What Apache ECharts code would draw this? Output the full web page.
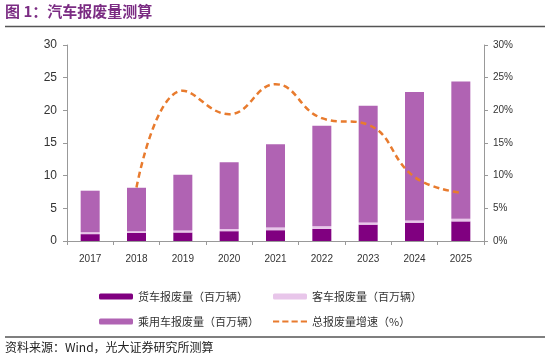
<!DOCTYPE html>
<html>
<head>
<meta charset="utf-8">
<script src="https://cdn.jsdelivr.net/npm/echarts@6/dist/echarts.min.js"></script>
<style>html,body{margin:0;padding:0;background:#fff}#c{width:550px;height:360px}</style>
</head>
<body>
<div id="c"></div>
<script>
var years = ['2017','2018','2019','2020','2021','2022','2023','2024','2025'];
var truck = [1.05, 1.25, 1.3, 1.5, 1.65, 1.85, 2.5, 2.8, 3.0];
var bus = [0.3, 0.25, 0.3, 0.35, 0.4, 0.4, 0.35, 0.35, 0.4];
var car = [6.35, 6.65, 8.55, 10.2, 12.75, 15.4, 17.85, 19.65, 21.0];
var growth = [null, 8.2, 23.0, 19.4, 24.0, 18.8, 17.8, 9.8, 7.4];
var leftTicks = [0, 30, 5];
var rightTicks = [0, 30, 5];

var font = 'Liberation Sans, Arial, sans-serif';
var cjk = '"Noto Sans CJK SC", sans-serif';
var chart = echarts.init(document.getElementById('c'));
chart.setOption({
  backgroundColor: '#fff',
  animation: false,
  grid: {left: 67, right: 66, top: 45, bottom: 119},
  legend: [
    {orient: 'vertical', left: 94, top: 286, itemWidth: 34, itemHeight: 6, itemGap: 14,
     textStyle: {fontFamily: cjk, fontSize: 11, color: '#333'},
     data: ['货车报废量（百万辆）', '乘用车报废量（百万辆）']},
    {orient: 'vertical', left: 268, top: 286, itemWidth: 34, itemHeight: 6, itemGap: 14,
     textStyle: {fontFamily: cjk, fontSize: 11, color: '#333'},
     data: ['客车报废量（百万辆）', {name: '总报废量增速（%）', icon: 'path://M0,0H6V2H0Z M9,0H15V2H9Z M18,0H24V2H18Z M27,0H33V2H27Z'}]}
  ],
  xAxis: {
    type: 'category', data: years,
    axisLine: {lineStyle: {color: '#999'}},
    axisTick: {show: true, length: 4, lineStyle: {color: '#999'}},
    axisLabel: {fontFamily: font, fontSize: 10, color: '#333', margin: 13}
  },
  yAxis: [
    {type: 'value', min: leftTicks[0], max: leftTicks[1], interval: leftTicks[2],
     splitLine: {show: false},
     axisLine: {show: true, lineStyle: {color: '#999'}},
     axisTick: {show: true, length: 4, lineStyle: {color: '#999'}},
     axisLabel: {fontFamily: font, fontSize: 12, color: '#333', margin: 10}},
    {type: 'value', min: rightTicks[0], max: rightTicks[1], interval: rightTicks[2],
     splitLine: {show: false},
     axisLine: {show: true, lineStyle: {color: '#999'}},
     axisTick: {show: true, length: 4, lineStyle: {color: '#999'}},
     axisLabel: {fontFamily: font, fontSize: 10, color: '#333', margin: 9, formatter: '{value}%'}}
  ],
  series: [
    {name: '货车报废量（百万辆）', type: 'bar', stack: 's', barWidth: 19, data: truck,
     itemStyle: {color: '#800080'}},
    {name: '客车报废量（百万辆）', type: 'bar', stack: 's', barWidth: 19, data: bus,
     itemStyle: {color: '#E8C6EA'}},
    {name: '乘用车报废量（百万辆）', type: 'bar', stack: 's', barWidth: 19, data: car,
     itemStyle: {color: '#B063B3'}},
    {name: '总报废量增速（%）', type: 'line', yAxisIndex: 1, data: growth, smooth: 0.45,
     symbol: 'none', itemStyle: {color: '#E87B2E'},
     lineStyle: {color: '#E87B2E', width: 2.5, type: [6, 4]}}
  ],
  graphic: [
    {type: 'text', left: 5, top: 4, style: {text: '图 1：汽车报废量测算', fontFamily: cjk, fontSize: 15, fontWeight: 'bold', fill: '#7B2C83'}},
    {type: 'line', shape: {x1: 5, y1: 26.5, x2: 545, y2: 26.5}, style: {stroke: '#555', lineWidth: 1.5}},
    {type: 'line', shape: {x1: 5, y1: 337, x2: 545, y2: 337}, style: {stroke: '#555', lineWidth: 1.5}},
    {type: 'text', left: 5, top: 341, style: {text: '资料来源：Wind，光大证券研究所测算', fontFamily: cjk, fontSize: 12, fill: '#222'}}
  ]
});
</script>
</body>
</html>
